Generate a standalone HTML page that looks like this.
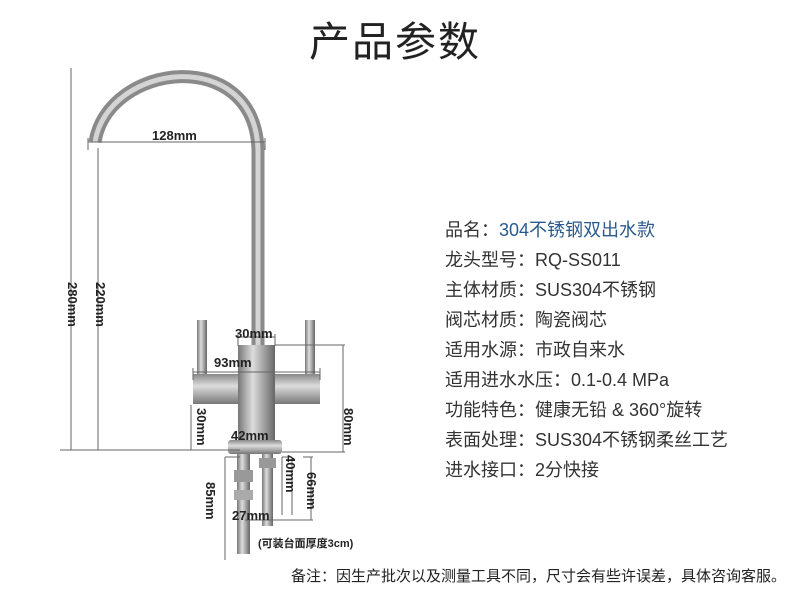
<!DOCTYPE html>
<html><head><meta charset="utf-8"><style>
body{margin:0;background:#fff;}
.w{position:relative;width:790px;height:591px;overflow:hidden;font-family:"Liberation Sans","Noto Sans CJK SC",sans-serif;}
.t{position:absolute;left:0;width:790px;top:8px;text-align:center;font-size:41px;color:#222;letter-spacing:2px}
.s{position:absolute;left:445px;font-size:18px;color:#333;}
.n{position:absolute;left:291px;top:565px;font-size:15px;color:#222;white-space:nowrap}
</style></head><body><div class="w">
<div class="t">产品参数</div>
<svg width="790" height="591" style="position:absolute;left:0;top:0">
<defs>
<linearGradient id="g" x1="0" x2="1"><stop offset="0" stop-color="#777"/><stop offset=".4" stop-color="#ddd"/><stop offset="1" stop-color="#666"/></linearGradient>
<linearGradient id="gv" x1="0" y1="0" x2="0" y2="1"><stop offset="0" stop-color="#888"/><stop offset=".4" stop-color="#ddd"/><stop offset="1" stop-color="#777"/></linearGradient>
</defs>
<path d="M95,142 C108,62 255,45 258,150 L258,348" fill="none" stroke="#8a8a8a" stroke-width="13"/>
<path d="M95,142 C108,62 255,45 258,150 L258,348" fill="none" stroke="#d4d4d4" stroke-width="5"/>
<rect x="197" y="320" width="10" height="56" fill="url(#g)"/>
<rect x="305" y="320" width="10" height="56" fill="url(#g)"/>
<rect x="193" y="374" width="127" height="30" fill="url(#gv)"/>
<rect x="238" y="345" width="37" height="97" fill="url(#g)"/>
<rect x="228" y="440" width="54" height="14" fill="url(#gv)" rx="3"/>
<rect x="237" y="454" width="13" height="100" fill="url(#g)"/>
<rect x="234" y="470" width="19" height="12" fill="#999"/>
<rect x="234" y="490" width="19" height="10" fill="#aaa"/>
<rect x="262" y="454" width="11" height="72" fill="url(#g)"/>
<rect x="259" y="458" width="17" height="10" fill="#999"/>
<g stroke="#666" stroke-width="1" fill="none">
<path d="M71,68V450M98,148V450M60,450H240M88,138V150M88,142H265M265,138V150M193,368V380M193,372H320M320,368V380M238,334V346M275,334V346M238,337H275M275,345H345M343,345V452M282,452H345M191,405V450M282,457V515M282,457H292M292,457V515M303,457H313M311,457V520M245,520H313M225,457V560M225,457H240"/>
</g>
<g font-family="Liberation Sans,sans-serif" font-weight="bold" font-size="13" fill="#222">
<text x="152" y="140">128mm</text>
<text x="235" y="338">30mm</text>
<text x="214" y="367">93mm</text>
<text x="231" y="440">42mm</text>
<text x="232" y="520">27mm</text>
<text transform="translate(68,282) rotate(90)">280mm</text>
<text transform="translate(96,282) rotate(90)">220mm</text>
<text transform="translate(197,408) rotate(90)">30mm</text>
<text transform="translate(344,408) rotate(90)">80mm</text>
<text transform="translate(286,455) rotate(90)">40mm</text>
<text transform="translate(307,472) rotate(90)">66mm</text>
<text transform="translate(206,482) rotate(90)">85mm</text>
<text x="258" y="547" font-size="11" font-family="Liberation Sans,Noto Sans CJK SC,sans-serif">(可装台面厚度3cm)</text>
</g>
</svg>
<div class="s" style="top:216px">品名：<span style="color:#2a5a8c">304不锈钢双出水款</span></div>
<div class="s" style="top:246px">龙头型号：RQ-SS011</div>
<div class="s" style="top:276px">主体材质：SUS304不锈钢</div>
<div class="s" style="top:306px">阀芯材质：陶瓷阀芯</div>
<div class="s" style="top:336px">适用水源：市政自来水</div>
<div class="s" style="top:366px">适用进水水压：0.1-0.4 MPa</div>
<div class="s" style="top:396px">功能特色：健康无铅 &amp; 360°旋转</div>
<div class="s" style="top:426px">表面处理：SUS304不锈钢柔丝工艺</div>
<div class="s" style="top:456px">进水接口：2分快接</div>
<div class="n">备注：因生产批次以及测量工具不同，尺寸会有些许误差，具体咨询客服。</div>
</div></body></html>
